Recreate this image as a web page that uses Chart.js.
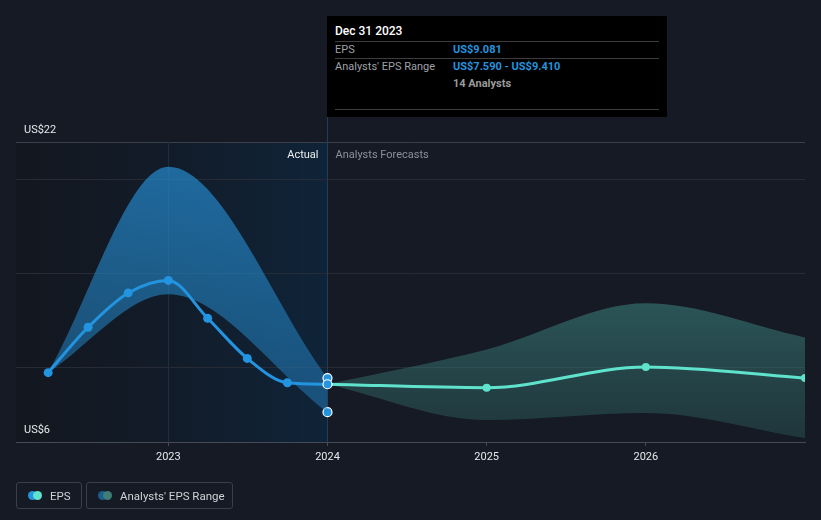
<!DOCTYPE html>
<html><head><meta charset="utf-8">
<script src="https://cdn.jsdelivr.net/npm/chart.js@4.4.1/dist/chart.umd.min.js"></script>
<style>
html,body{margin:0;padding:0;background:#151a24;width:821px;height:520px;overflow:hidden;font-family:Roboto,"Noto Sans",sans-serif;}
#wrap{position:relative;width:821px;height:520px;}
#c{position:absolute;left:0;top:0;}
#tip{position:absolute;left:327px;top:16px;width:340px;height:101px;background:#000;font-size:11px;}
#tip .t{position:absolute;white-space:nowrap;line-height:13px;}
#tip .hr{position:absolute;left:8px;width:324px;height:1px;background:#3d3d3d;}
.lg{position:absolute;top:482px;height:25px;border:1px solid #3a3f4b;border-radius:3px;box-sizing:content-box;}
.lg .dot{position:absolute;top:8px;width:9px;height:9px;border-radius:50%;}
.lg .lt{position:absolute;top:6px;font-size:11.5px;line-height:14px;color:#cfd2d6;white-space:nowrap;}
</style></head>
<body>
<div id="wrap">
<canvas id="c" width="821" height="520"></canvas>
<div id="tip">
  <div class="t" style="left:8px;top:8px;font-size:12px;line-height:14px;color:#fff;font-weight:500">Dec 31 2023</div>
  <div class="hr" style="top:25px"></div>
  <div class="t" style="left:8px;top:27px;color:#9ea2a8">EPS</div>
  <div class="t" style="left:126px;top:27px;color:#2394df;font-weight:700">US$9.081</div>
  <div class="hr" style="top:42px"></div>
  <div class="t" style="left:8px;top:44px;color:#9ea2a8">Analysts' EPS Range</div>
  <div class="t" style="left:126px;top:44px;color:#2394df;font-weight:700">US$7.590 - US$9.410</div>
  <div class="t" style="left:126px;top:61px;color:#9a9a9a;font-weight:700">14 Analysts</div>
  <div class="hr" style="top:93px"></div>
</div>
<div class="lg" style="left:16px;width:64px;">
  <div class="dot" style="left:11px;background:#2394df"></div>
  <div class="dot" style="left:16px;background:#5fe3cc"></div>
  <div class="lt" style="left:33px">EPS</div>
</div>
<div class="lg" style="left:86px;width:145px;">
  <div class="dot" style="left:11px;background:#1d5d8c"></div>
  <div class="dot" style="left:16px;background:#3f7d77"></div>
  <div class="lt" style="left:33px">Analysts' EPS Range</div>
</div>
</div>
<script>
// ---- data ----
const histDates = [2022.245, 2022.496, 2022.748, 2023.0, 2023.247, 2023.496, 2023.748, 2024.0];
const histEPS = [9.70, 12.12, 13.95, 14.62, 12.60, 10.46, 9.16, 9.081];
const histRangeDates = [2022.245, 2023.0, 2024.0];
const histRangeHigh = [9.70, 20.68, 9.41];
const histRangeLow = [9.70, 13.88, 7.59];
const fcDates = [2024.0, 2025.0, 2026.0, 2027.0];
const fcEPS = [9.081, 8.90, 10.00, 9.41];
const fcHigh = [9.081, 10.94, 13.40, 11.58];
const fcLow = [9.081, 7.17, 7.55, 6.21];
const xTicks = [2023, 2024, 2025, 2026];
const yGrid = [6, 10, 15, 20, 22];
const yLabels = [22, 6];
const xMin = 2022.043, xMax = 2027.0;

const pts = (xs, ys) => xs.map((x, i) => ({x, y: ys[i]}));
const lastH = histDates.length - 1;

function grad(ctx, stops) {
  const chart = ctx.chart, a = chart.chartArea;
  if (!a) return stops[0][1];
  const g = chart.ctx.createLinearGradient(0, a.top, 0, a.bottom);
  stops.forEach(s => g.addColorStop(s[0], s[1]));
  return g;
}

const deco = {
  id: 'deco',
  beforeDraw(chart) {
    const {ctx, chartArea: a, scales: {x}} = chart;
    const x1 = x.getPixelForValue(histDates[lastH]);
    const g = ctx.createLinearGradient(a.left, 0, x1, 0);
    g.addColorStop(0, '#13171f'); g.addColorStop(0.5, '#121c29'); g.addColorStop(1, '#0f2439');
    ctx.save(); ctx.fillStyle = g; ctx.fillRect(a.left, a.top, x1 - a.left, a.bottom - a.top); ctx.restore();
  },
  beforeDatasetsDraw(chart) {
    const {ctx, chartArea: a, scales: {x}} = chart;
    ctx.save(); ctx.lineWidth = 1;
    const x23 = Math.round(x.getPixelForValue(xTicks[0])) + 0.5;
    ctx.strokeStyle = '#1a2f45'; ctx.beginPath(); ctx.moveTo(x23, a.top); ctx.lineTo(x23, a.bottom); ctx.stroke();
    const x24 = Math.round(x.getPixelForValue(histDates[lastH])) + 0.5;
    ctx.strokeStyle = '#223d58'; ctx.beginPath(); ctx.moveTo(x24, 16); ctx.lineTo(x24, a.bottom); ctx.stroke();
    ctx.restore();
  },
  afterDraw(chart) {
    const {ctx, chartArea: a, scales: {x, y}} = chart;
    ctx.save();
    ctx.font = '11px Roboto'; ctx.textBaseline = 'middle'; ctx.textAlign = 'left';
    ctx.fillStyle = '#e6e8eb';
    yLabels.forEach(v => ctx.fillText('US$' + v, a.left + 8, y.getPixelForValue(v) - 12));
    const x24 = x.getPixelForValue(histDates[lastH]);
    ctx.textAlign = 'right'; ctx.fillStyle = '#eceef0';
    ctx.fillText('Actual', x24 - 9, a.top + 13);
    ctx.textAlign = 'left'; ctx.fillStyle = '#8b9099';
    ctx.fillText('Analysts Forecasts', x24 + 8, a.top + 13);
    ctx.restore();
  }
};

new Chart(document.getElementById('c'), {
  type: 'line',
  data: {datasets: [
    {label: 'EPS', data: pts(histDates, histEPS), borderColor: '#2394df', borderWidth: 3,
     cubicInterpolationMode: 'monotone', fill: false, order: 1,
     pointRadius: 4.5, pointBackgroundColor: '#2394df',
     pointBorderColor: histDates.map((_, i) => i === lastH ? '#ffffff' : '#2394df'),
     pointBorderWidth: histDates.map((_, i) => i === lastH ? 1.2 : 0)},
    {label: 'EPS forecast', data: pts(fcDates, fcEPS), borderColor: '#5fe3cc', borderWidth: 3,
     cubicInterpolationMode: 'monotone', fill: false, order: 1,
     pointRadius: fcDates.map((_, i) => i === 0 ? 0 : 4), pointBackgroundColor: '#5fe3cc', pointBorderWidth: 0},
    {label: 'Range high', data: pts(histRangeDates, histRangeHigh), borderWidth: 0, borderColor: 'rgba(0,0,0,0)',
     cubicInterpolationMode: 'monotone', fill: '+1', order: 3,
     backgroundColor: c => grad(c, [[0, 'rgba(36,137,205,0.74)'], [1, 'rgba(36,137,205,0.40)']]),
     pointRadius: histRangeDates.map((_, i) => i === histRangeDates.length - 1 ? 4.5 : 0),
     pointBackgroundColor: '#2394df', pointBorderColor: '#ffffff', pointBorderWidth: 1.2},
    {label: 'Range low', data: pts(histRangeDates, histRangeLow), borderWidth: 0, borderColor: 'rgba(0,0,0,0)',
     cubicInterpolationMode: 'monotone', fill: false, order: 3,
     pointRadius: histRangeDates.map((_, i) => i === histRangeDates.length - 1 ? 4.5 : 0),
     pointBackgroundColor: '#2394df', pointBorderColor: '#ffffff', pointBorderWidth: 1.2},
    {label: 'Forecast high', data: pts(fcDates, fcHigh), borderWidth: 0, borderColor: 'rgba(0,0,0,0)',
     cubicInterpolationMode: 'monotone', fill: '+1', order: 4, pointRadius: 0,
     backgroundColor: c => grad(c, [[0, 'rgba(62,135,130,0.75)'], [0.5, 'rgba(62,135,130,0.56)'], [1, 'rgba(62,135,130,0.25)']])},
    {label: 'Forecast low', data: pts(fcDates, fcLow), borderWidth: 0, borderColor: 'rgba(0,0,0,0)',
     cubicInterpolationMode: 'monotone', fill: false, order: 4, pointRadius: 0}
  ]},
  options: {
    responsive: false, animation: false, events: [],
    devicePixelRatio: 1,
    layout: {padding: {left: 16, right: 16, top: 142, bottom: 48}},
    plugins: {legend: {display: false}, tooltip: {enabled: false}},
    scales: {
      x: {type: 'linear', min: xMin, max: xMax,
        afterBuildTicks: s => { s.ticks = xTicks.map(v => ({value: v})); },
        afterFit: s => { s.height = 30; },
        grid: {drawOnChartArea: false, drawTicks: true, tickLength: 4, color: '#454a55'},
        border: {display: true, color: '#454a55'},
        ticks: {color: '#e6e8eb', font: {family: 'Roboto', size: 11}, padding: 5,
          maxRotation: 0, autoSkip: false, callback: v => String(v)}},
      y: {min: 6, max: 22,
        afterBuildTicks: s => { s.ticks = yGrid.map(v => ({value: v})); },
        afterFit: s => { s.width = 0; },
        ticks: {display: false}, border: {display: false},
        grid: {drawTicks: false, color: c => c.tick && c.tick.value === 22 ? '#3a3f49' : (c.tick && c.tick.value === 6 ? '#454a55' : '#262b35')}}
    }
  },
  plugins: [deco]
});
</script>
</body></html>
